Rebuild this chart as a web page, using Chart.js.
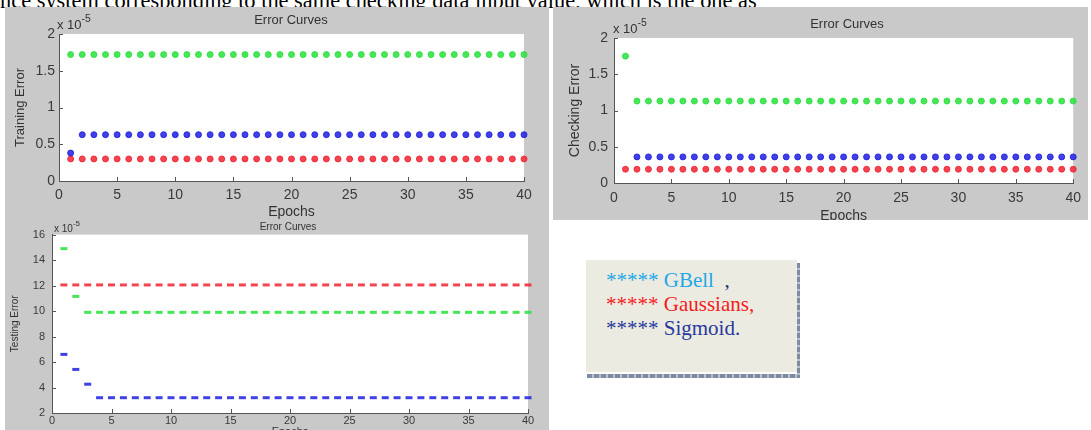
<!DOCTYPE html>
<html>
<head>
<meta charset="utf-8">
<script src="https://cdn.jsdelivr.net/npm/chart.js@4.4.1/dist/chart.umd.min.js"></script>
<style>
  html, body { margin: 0; padding: 0; background: #fff; overflow: hidden; }
  body { width: 1091px; height: 430px; position: relative; font-family: "Liberation Sans", Arial, sans-serif; }
  #topText { position: absolute; left: 0; top: -10px; font: 22.4px/22px "Liberation Serif", "Times New Roman", serif; color: #000; white-space: nowrap; }
  .panel { position: absolute; background: #c9c9c9; overflow: hidden; }
  .panel canvas { position: absolute; left: 0; top: 0; }
  .ptitle { position: absolute; color: #333; white-space: nowrap; transform: translate(-50%, -50%); }
  .exp { position: absolute; color: #333; white-space: nowrap; }
  .exp sup { font-size: 80%; position: relative; top: -2px; }
  #legend { position: absolute; left: 586px; top: 260px; width: 211px; height: 112px; background: #ecebe2; font: 21px/24px "Liberation Serif", "Times New Roman", serif; }
  #legend .row { position: absolute; left: 20px; white-space: nowrap; }
  #shadowB { position: absolute; left: 587px; top: 374px; width: 213px; height: 4px; background: repeating-linear-gradient(90deg, #7f8aa3 0 5px, #b9bfcc 5px 7px); }
  #shadowR { position: absolute; left: 797px; top: 263px; width: 3px; height: 112px; background: repeating-linear-gradient(180deg, #7f8aa3 0 5px, #b9bfcc 5px 7px); }
</style>
</head>
<body>
<div id="topText">nce system corresponding to the same checking data input value, which is the one as</div>

<div class="panel" style="left:5px;top:7px;width:544px;height:214px;">
  <canvas id="train" width="544" height="214"></canvas>
  <div class="ptitle" style="left:286px;top:12px;font-size:13px;">Error Curves</div>
  <div class="exp" style="left:52px;top:8px;font-size:13px;">x 10<sup>-5</sup></div>
</div>

<div class="panel" style="left:553px;top:7px;width:535px;height:213px;">
  <canvas id="check" width="535" height="219"></canvas>
  <div class="ptitle" style="left:294px;top:16px;font-size:13px;">Error Curves</div>
  <div class="exp" style="left:60px;top:12px;font-size:13px;">x 10<sup>-5</sup></div>
</div>

<div class="panel" style="left:5px;top:221px;width:544px;height:230px;">
  <canvas id="test" width="544" height="230"></canvas>
  <div class="ptitle" style="left:283px;top:5px;font-size:10px;">Error Curves</div>
  <div class="exp" style="left:49px;top:0px;font-size:10px;">x 10<sup>-5</sup></div>
</div>

<div id="shadowB"></div>
<div id="shadowR"></div>
<div id="legend">
  <div class="row" style="top:8px;color:#22a8e6;">***** GBell&nbsp;&nbsp;<span style="color:#2a3170;">,</span></div>
  <div class="row" style="top:32px;color:#f21c1c;">***** Gaussians,</div>
  <div class="row" style="top:56px;color:#27399c;">***** Sigmoid.</div>
</div>

<script>
// epochs on the x axis
const epochs = [1, 2, 3, 4, 5, 6, 7, 8, 9, 10, 11, 12, 13, 14, 15, 16, 17, 18, 19, 20,
  21, 22, 23, 24, 25, 26, 27, 28, 29, 30, 31, 32, 33, 34, 35, 36, 37, 38, 39, 40];
const epochTicks = [0, 5, 10, 15, 20, 25, 30, 35, 40];

// training error (x 10^-5)
const trainGreen = [1.72, 1.72, 1.72, 1.72, 1.72, 1.72, 1.72, 1.72, 1.72, 1.72,
  1.72, 1.72, 1.72, 1.72, 1.72, 1.72, 1.72, 1.72, 1.72, 1.72,
  1.72, 1.72, 1.72, 1.72, 1.72, 1.72, 1.72, 1.72, 1.72, 1.72,
  1.72, 1.72, 1.72, 1.72, 1.72, 1.72, 1.72, 1.72, 1.72, 1.72];
const trainBlue = [0.38, 0.63, 0.63, 0.63, 0.63, 0.63, 0.63, 0.63, 0.63, 0.63,
  0.63, 0.63, 0.63, 0.63, 0.63, 0.63, 0.63, 0.63, 0.63, 0.63,
  0.63, 0.63, 0.63, 0.63, 0.63, 0.63, 0.63, 0.63, 0.63, 0.63,
  0.63, 0.63, 0.63, 0.63, 0.63, 0.63, 0.63, 0.63, 0.63, 0.63];
const trainRed = [0.3, 0.3, 0.3, 0.3, 0.3, 0.3, 0.3, 0.3, 0.3, 0.3,
  0.3, 0.3, 0.3, 0.3, 0.3, 0.3, 0.3, 0.3, 0.3, 0.3,
  0.3, 0.3, 0.3, 0.3, 0.3, 0.3, 0.3, 0.3, 0.3, 0.3,
  0.3, 0.3, 0.3, 0.3, 0.3, 0.3, 0.3, 0.3, 0.3, 0.3];
const trainTicks = [0, 0.5, 1, 1.5, 2];

// checking error (x 10^-5)
const checkGreen = [1.75, 1.13, 1.13, 1.13, 1.13, 1.13, 1.13, 1.13, 1.13, 1.13,
  1.13, 1.13, 1.13, 1.13, 1.13, 1.13, 1.13, 1.13, 1.13, 1.13,
  1.13, 1.13, 1.13, 1.13, 1.13, 1.13, 1.13, 1.13, 1.13, 1.13,
  1.13, 1.13, 1.13, 1.13, 1.13, 1.13, 1.13, 1.13, 1.13, 1.13];
const checkBlue = [null, 0.36, 0.36, 0.36, 0.36, 0.36, 0.36, 0.36, 0.36, 0.36,
  0.36, 0.36, 0.36, 0.36, 0.36, 0.36, 0.36, 0.36, 0.36, 0.36,
  0.36, 0.36, 0.36, 0.36, 0.36, 0.36, 0.36, 0.36, 0.36, 0.36,
  0.36, 0.36, 0.36, 0.36, 0.36, 0.36, 0.36, 0.36, 0.36, 0.36];
const checkRed = [0.19, 0.19, 0.19, 0.19, 0.19, 0.19, 0.19, 0.19, 0.19, 0.19,
  0.19, 0.19, 0.19, 0.19, 0.19, 0.19, 0.19, 0.19, 0.19, 0.19,
  0.19, 0.19, 0.19, 0.19, 0.19, 0.19, 0.19, 0.19, 0.19, 0.19,
  0.19, 0.19, 0.19, 0.19, 0.19, 0.19, 0.19, 0.19, 0.19, 0.19];

// testing error (x 10^-5)
const testGreen = [14.9, 11.15, 9.9, 9.9, 9.9, 9.9, 9.9, 9.9, 9.9, 9.9,
  9.9, 9.9, 9.9, 9.9, 9.9, 9.9, 9.9, 9.9, 9.9, 9.9,
  9.9, 9.9, 9.9, 9.9, 9.9, 9.9, 9.9, 9.9, 9.9, 9.9,
  9.9, 9.9, 9.9, 9.9, 9.9, 9.9, 9.9, 9.9, 9.9, 9.9];
const testRed = [12.05, 12.05, 12.05, 12.05, 12.05, 12.05, 12.05, 12.05, 12.05, 12.05,
  12.05, 12.05, 12.05, 12.05, 12.05, 12.05, 12.05, 12.05, 12.05, 12.05,
  12.05, 12.05, 12.05, 12.05, 12.05, 12.05, 12.05, 12.05, 12.05, 12.05,
  12.05, 12.05, 12.05, 12.05, 12.05, 12.05, 12.05, 12.05, 12.05, 12.05];
const testBlue = [6.6, 5.42, 4.26, 3.2, 3.2, 3.2, 3.2, 3.2, 3.2, 3.2,
  3.2, 3.2, 3.2, 3.2, 3.2, 3.2, 3.2, 3.2, 3.2, 3.2,
  3.2, 3.2, 3.2, 3.2, 3.2, 3.2, 3.2, 3.2, 3.2, 3.2,
  3.2, 3.2, 3.2, 3.2, 3.2, 3.2, 3.2, 3.2, 3.2, 3.2];
const testTicks = [2, 4, 6, 8, 10, 12, 14, 16];

const GREEN = 'rgba(40, 225, 60, 0.85)';
const BLUE = 'rgba(30, 30, 225, 0.85)';
const RED = 'rgba(240, 35, 50, 0.85)';

// white plot box + matlab style inward ticks
const matlabAxes = {
  id: 'matlabAxes',
  beforeDraw(chart) {
    const a = chart.chartArea;
    const ctx = chart.ctx;
    ctx.save();
    ctx.fillStyle = '#ffffff';
    ctx.fillRect(a.left, a.top, a.right - a.left, a.bottom - a.top);
    ctx.restore();
  },
  afterDraw(chart) {
    const a = chart.chartArea;
    const ctx = chart.ctx;
    const x = chart.scales.x, y = chart.scales.y;
    ctx.save();
    ctx.strokeStyle = '#555';
    ctx.lineWidth = 1;
    ctx.beginPath();
    x.ticks.forEach(t => {
      const px = Math.round(x.getPixelForValue(t.value)) + 0.5;
      ctx.moveTo(px, a.bottom);
      ctx.lineTo(px, a.bottom - 4);
    });
    y.ticks.forEach(t => {
      const py = Math.round(y.getPixelForValue(t.value)) + 0.5;
      ctx.moveTo(a.left, py);
      ctx.lineTo(a.left + 4, py);
    });
    ctx.stroke();
    ctx.restore();
  }
};

function series(values, color, style, radius, bw) {
  return {
    data: epochs.map((e, i) => ({ x: e, y: values[i] })),
    showLine: false,
    pointStyle: style,
    pointRadius: radius,
    pointHoverRadius: radius,
    pointBackgroundColor: color,
    pointBorderColor: color,
    pointBorderWidth: bw,
    clip: false
  };
}

function makePanel(id, datasets, cfg) {
  const font = size => ({ size: size, family: '"Liberation Sans", Arial' });
  return new Chart(document.getElementById(id), {
    type: 'scatter',
    data: { datasets: datasets },
    plugins: [matlabAxes],
    options: {
      responsive: false,
      animation: false,
      events: [],
      layout: { padding: { left: 0, top: cfg.top, right: cfg.right, bottom: 0 } },
      plugins: { legend: { display: false }, tooltip: { enabled: false } },
      scales: {
        x: {
          type: 'linear', min: 0, max: 40,
          afterFit: s => { s.height = cfg.xHeight; },
          afterBuildTicks: s => { s.ticks = epochTicks.map(v => ({ value: v })); },
          grid: { display: false, drawTicks: false },
          border: { display: true, color: '#555', width: 1 },
          ticks: { color: '#3a3a3a', font: font(cfg.tickSize), padding: cfg.xPad, maxRotation: 0, autoSkip: false, callback: v => String(v) },
          title: { display: true, text: 'Epochs', color: '#333', font: font(cfg.xTitleSize), padding: { top: 0, bottom: cfg.xTitlePad } }
        },
        y: {
          type: 'linear', min: cfg.yTicks[0], max: cfg.yTicks[cfg.yTicks.length - 1],
          afterFit: s => { s.width = cfg.yWidth; },
          afterBuildTicks: s => { s.ticks = cfg.yTicks.map(v => ({ value: v })); },
          grid: { display: false, drawTicks: false },
          border: { display: true, color: '#555', width: 1 },
          ticks: { color: '#3a3a3a', font: font(cfg.tickSize), padding: cfg.yPad, autoSkip: false, callback: v => String(v) },
          title: { display: true, text: cfg.yTitle, color: '#333', font: font(cfg.yTitleSize), padding: { top: cfg.yTitlePad, bottom: 0 } }
        }
      }
    }
  });
}

makePanel('train', [
  series(trainGreen, GREEN, 'circle', 3, 1),
  series(trainBlue, BLUE, 'circle', 3, 1),
  series(trainRed, RED, 'circle', 3, 1)
], { top: 27, right: 25, xHeight: 40, yWidth: 54, yTicks: trainTicks, tickSize: 14, xPad: 6, yPad: 4,
     xTitleSize: 14, xTitlePad: 0, yTitle: 'Training Error', yTitleSize: 13, yTitlePad: 8 });

makePanel('check', [
  series(checkGreen, GREEN, 'circle', 3, 1),
  series(checkBlue, BLUE, 'circle', 3, 1),
  series(checkRed, RED, 'circle', 3, 1)
], { top: 31, right: 7, xHeight: 43, yWidth: 61, yTicks: trainTicks, tickSize: 14, xPad: 7, yPad: 6,
     xTitleSize: 14, xTitlePad: 1, yTitle: 'Checking Error', yTitleSize: 14, yTitlePad: 14 });

makePanel('test', [
  series(testRed, RED, 'line', 3.5, 3),
  series(testGreen, GREEN, 'line', 3.5, 3),
  series(testBlue, BLUE, 'line', 3.5, 3)
], { top: 12, right: 21, xHeight: 38, yWidth: 47, yTicks: testTicks, tickSize: 11, xPad: 1, yPad: 7,
     xTitleSize: 11, xTitlePad: 12, yTitle: 'Testing Error', yTitleSize: 10, yTitlePad: 4 });
</script>
</body>
</html>
